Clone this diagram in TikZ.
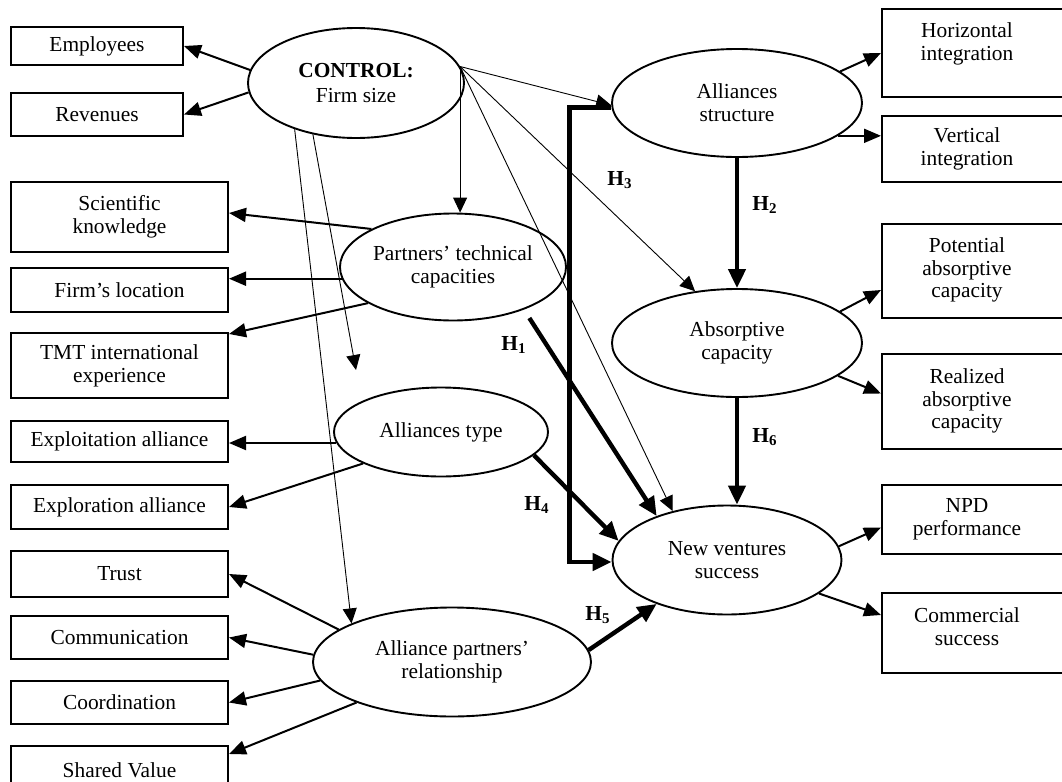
\documentclass[tikz,border=0pt]{standalone}
\usepackage{fontspec}
\setmainfont{Liberation Serif}
\usetikzlibrary{arrows.meta,shapes.geometric,calc}
\begin{document}
\begin{tikzpicture}[x=0.5pt,y=-0.5pt,
  every node/.style={font=\fontsize{10.7}{11.4}\selectfont, inner sep=0pt},
  lbox/.style={draw, line width=1pt, rectangle, align=center},
  txt/.style={align=center},
  ell/.style={draw, ellipse, line width=0.95pt, align=center},
  arr/.style={line width=1pt, -{Triangle[length=8.5pt,width=7pt]}},
  thinarr/.style={line width=0.45pt, -{Triangle[length=7.5pt,width=7pt]}},
  hyp/.style={line width=2.2pt, -{Triangle[length=9.5pt,width=8.5pt]}},
  hlab/.style={font=\fontsize{10.7}{11.2}\selectfont\bfseries}]
\useasboundingbox (0,0) rectangle (1062,782);
\clip (0,0) rectangle (1062,782);

% left boxes
\node[lbox, minimum width=86pt, minimum height=19pt] (emp) at (97,46) {Employees};
\node[lbox, minimum width=86pt, minimum height=21.5pt] (rev) at (97,114.5) {Revenues};
\node[lbox, minimum width=108.5pt, minimum height=35pt] (sk) at (119.5,217) {Scientific\\knowledge};
\node[lbox, minimum width=108.5pt, minimum height=22pt] (fl) at (119.5,290) {Firm’s location};
\node[lbox, minimum width=108.5pt, minimum height=32.5pt] (tmt) at (119.5,365.5) {TMT international\\experience};
\node[lbox, minimum width=108.5pt, minimum height=20.5pt] (ea) at (119.5,441.5) {Exploitation alliance};
\node[lbox, minimum width=108.5pt, minimum height=22pt] (er) at (119.5,507) {Exploration alliance};
\node[lbox, minimum width=108.5pt, minimum height=23pt] (tr) at (119.5,574) {Trust};
\node[lbox, minimum width=108.5pt, minimum height=21.5pt] (cm) at (119.5,637.5) {Communication};
\node[lbox, minimum width=108.5pt, minimum height=21.5pt] (co) at (119.5,702.5) {Coordination};
\node[lbox, minimum width=108.5pt, minimum height=24pt] (sv) at (119.5,770) {Shared Value};

% right boxes
\node[lbox, minimum width=99pt, minimum height=44pt] (hi) at (981,53) {};
\node[txt] (hit) at (967,44) {Horizontal\\integration};
\node[lbox, minimum width=99pt, minimum height=33pt] (vi) at (981,149) {};
\node[txt] (vit) at (967,149) {Vertical\\integration};
\node[lbox, minimum width=99pt, minimum height=47pt] (pa) at (981,271) {};
\node[txt] (pat) at (967,270) {Potential\\absorptive\\capacity};
\node[lbox, minimum width=99pt, minimum height=47.5pt] (ra) at (981,401.5) {};
\node[txt] (rat) at (967,401) {Realized\\absorptive\\capacity};
\node[lbox, minimum width=99pt, minimum height=34.5pt] (npd) at (981,519.5) {};
\node[txt] (npdt) at (967,519) {NPD\\performance};
\node[lbox, minimum width=99pt, minimum height=40pt] (cs) at (981,633) {};
\node[txt] (cst) at (967,627) {Commercial\\success};

% ellipses
\node[ell, minimum width=108pt, minimum height=55pt] (ctl) at (356,83) {\textbf{CONTROL:}\\[1pt]Firm size};
\node[ell, minimum width=125pt, minimum height=54pt] (as) at (737,103) {Alliances\\structure};
\node[ell, minimum width=97pt, minimum height=53.5pt] (pt) at (453,267) {Partners’ technical\\capacities};
\node[ell, minimum width=107pt, minimum height=44.5pt] (at) at (441,432) {Alliances type};
\node[ell, minimum width=125pt, minimum height=54pt] (ac) at (737,343) {Absorptive\\capacity};
\node[ell, minimum width=114.5pt, minimum height=54.5pt] (nv) at (727,560) {New ventures\\success};
\node[ell, minimum width=139pt, minimum height=54.5pt] (ap) at (452,662) {Alliance partners’\\relationship};

\coordinate (fe) at (356,370);

% control arrows (thin)
\draw[thinarr] (ctl.9) -- (ctl.9 |- pt.north);
\draw[thinarr] (ctl.9) -- (as.181);
\draw[thinarr] (ctl.9) -- (ac.129);
\draw[thinarr] (ctl.9) -- (nv.138);
\draw[thinarr] (ctl.217) -- (ap.159);
\draw[thinarr] (ctl.230) -- (fe);

% indicator arrows (left)
\draw[arr] (ctl.173) -- (emp.east);
\draw[arr] (ctl.185) -- (rev.east);
\draw[arr] (pt.155) -- ([yshift=2pt]sk.east);
\draw[arr] (pt.186) -- (pt.186 -| fl.east);
\draw[arr] (pt.203) -- ([yshift=-1pt]tmt.north east);
\draw[arr] (at.186) -- (at.186 -| ea.east);
\draw[arr] (at.202) -- (er.east);
\draw[arr] (ap.164) -- (tr.east);
\draw[arr] (ap.177) -- (cm.east);
\draw[arr] (ap.188) -- (co.east);
\draw[arr] (ap.203) -- ([yshift=-4.5pt]sv.north east);

% indicator arrows (right)
\draw[arr] (as.17) -- (hi.west);
\draw[arr] (as.-18) -- (as.-18 -| vi.west);
\draw[arr] (ac.17) -- ([yshift=-9.5pt]pa.west);
\draw[arr] (ac.-18) -- ([yshift=4pt]ra.west);
\draw[arr] (nv.7) -- ([yshift=-4pt]npd.west);
\draw[arr] (nv.-20) -- ([yshift=9pt]cs.west);

% hypotheses
\draw[hyp] (as.south) -- (ac.north);
\draw[hyp] (ac.south) -- (ac.south |- nv.north);
\draw[hyp] (as.182) -- ++(-42,0) |- (nv.181);
\draw[hyp, shorten <=5pt] (pt.-31) -- (nv.148);
\draw[hyp] (at.-14) -- (nv.170);
\draw[hyp] (ap.5) -- (nv.212);

\node[hlab] (h1) at (514,345) {H\textsubscript{1}};
\node[hlab] (h2) at (765,205) {H\textsubscript{2}};
\node[hlab] (h3) at (620,180) {H\textsubscript{3}};
\node[hlab] (h4) at (537,505) {H\textsubscript{4}};
\node[hlab] (h5) at (598,615) {H\textsubscript{5}};
\node[hlab] (h6) at (765,437) {H\textsubscript{6}};
\end{tikzpicture}
\end{document}
